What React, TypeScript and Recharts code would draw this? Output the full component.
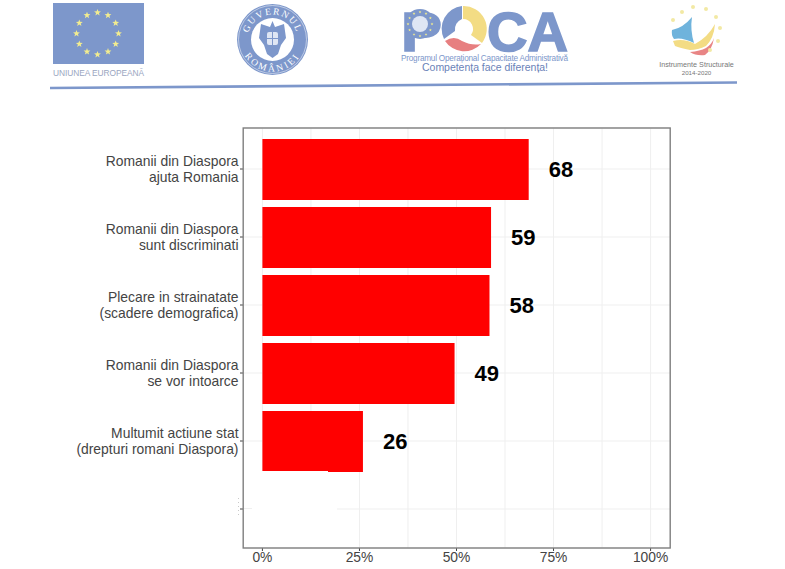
import React from "react";
import { BarChart, Bar, XAxis, YAxis, CartesianGrid, LabelList } from "recharts";

const categories = [
  "Romanii din Diaspora\najuta Romania",
  "Romanii din Diaspora\nsunt discriminati",
  "Plecare in strainatate\n(scadere demografica)",
  "Romanii din Diaspora\nse vor intoarce",
  "Multumit actiune stat\n(drepturi romani Diaspora)",
  " ",
];
const shares: (number | null)[] = [68.6, 58.9, 58.5, 49.5, 25.9, null];
const labels: (number | null)[] = [68, 59, 58, 49, 26, null];
const xTicks = [0, 25, 50, 75, 100];
const gridValues = [0, 12.5, 25, 37.5, 50, 62.5, 75, 87.5, 100];
const data = categories.map((name, i) => ({ name, share: shares[i], label: labels[i] }));

const BLUE = "#7d97cb";
const FONT = "'Liberation Sans', Arial, sans-serif";
const SERIF = "'Liberation Serif', serif";

function CatTick(props: any) {
  const { x, y, payload } = props;
  const lines = String(payload.value).split("\n");
  if (lines.length < 2) return <g />;
  return (
    <text x={x} y={y} textAnchor="end" fontFamily={FONT} fontSize={13.9} fill="#444">
      {lines.map((l: string, i: number) => (
        <tspan key={i} x={x + 0.5} y={y + (i === 0 ? -3 : 12.5)}>{l}</tspan>
      ))}
    </text>
  );
}

function Stars({ cx, cy, r, size, color }: any) {
  return (
    <g fill={color}>
      {Array.from({ length: 12 }).map((_, i) => {
        const a = (i * Math.PI) / 6;
        const sx = cx + r * Math.sin(a);
        const sy = cy - r * Math.cos(a);
        const pts = Array.from({ length: 10 })
          .map((__, k) => {
            const b = (k * Math.PI) / 5;
            const rr = k % 2 === 0 ? size : size * 0.42;
            return `${sx + rr * Math.sin(b)},${sy - rr * Math.cos(b)}`;
          })
          .join(" ");
        return <polygon key={i} points={pts} />;
      })}
    </g>
  );
}

function Logos() {
  return (
    <svg width={785} height={110} style={{ position: "absolute", left: 0, top: 0 }}>
      <defs>
        <path id="sealTop" d="M 247.5 39.5 A 25 25 0 0 1 297.5 39.5" />
        <path id="sealBottom" d="M 240.5 39.5 A 32 32 0 0 0 304.5 39.5" />
      </defs>
      {/* EU */}
      <rect x={53} y={3} width={91} height={61} fill={BLUE} />
      <Stars cx={97.5} cy={33.5} r={21} size={3.6} color="#f2ec8f" />
      <text x={53} y={76} fontFamily={FONT} fontSize={8.4} fill="#9aa6bf" textLength={91}>UNIUNEA EUROPEANĂ</text>
      {/* Government seal */}
      <circle cx={272.5} cy={39.5} r={35.5} fill={BLUE} />
      <circle cx={272.5} cy={39.5} r={21.5} fill="#fff" />
      <circle cx={272.5} cy={39.5} r={34} fill="none" stroke="#fff" strokeWidth={0.5} />
      <text fontFamily={SERIF} fontSize={9.5} fill="#fff" letterSpacing={1.6}>
        <textPath href="#sealTop" startOffset="50%" textAnchor="middle">GUVERNUL</textPath>
      </text>
      <text fontFamily={SERIF} fontSize={9.5} fill="#fff" letterSpacing={2.4}>
        <textPath href="#sealBottom" startOffset="50%" textAnchor="middle">ROMÂNIEI</textPath>
      </text>
      <path d="M272.5 21 L275 27 L284 24 L286 38 L281 45 L278 54 L272.5 58 L267 54 L264 45 L259 38 L261 24 L270 27 Z" fill={BLUE} />
      <rect x={267} y={32} width={11} height={13} rx={2} fill="#dfe6f4" />
      <path d="M272.5 32 V45 M267 38.5 H278" stroke={BLUE} strokeWidth={1} />
      {/* POCA */}
      <text x={401} y={50.5} fontFamily={FONT} fontWeight={700} fontSize={56} fill={BLUE} stroke={BLUE} strokeWidth={1.6} textLength={41} lengthAdjust="spacingAndGlyphs">P</text>
      <circle cx={420} cy={24} r={15} fill={BLUE} />
      <circle cx={420} cy={24} r={8} fill="#dfe6f4" />
      <Stars cx={420} cy={24} r={12} size={1.5} color="#f2ec8f" />
      <path d="M463 6 A 23 23 0 0 1 482 43 L471 35 A 10 10 0 0 0 463 19 Z" fill="#f3dc84" />
      <path d="M481 44 A 23 23 0 0 1 445 41 Q 454 35 462 41 Q 472 46 481 44 Z" fill="#e77f80" />
      <path d="M462 6 A 23 23 0 0 0 444 39 L 455 31 A 11 11 0 0 1 462 19 Z" fill={BLUE} />
      <text x={487} y={50.5} fontFamily={FONT} fontWeight={700} fontSize={56} fill={BLUE} stroke={BLUE} strokeWidth={1.6} textLength={81} lengthAdjust="spacingAndGlyphs">CA</text>
      <text x={401} y={60.5} fontFamily={FONT} fontSize={8.2} fill={BLUE} textLength={167}>Programul Operațional Capacitate Administrativă</text>
      <text x={422} y={71} fontFamily={FONT} fontSize={10.5} fill="#6a82b8" textLength={126}>Competența face diferența!</text>
      {/* Instrumente Structurale */}
      <path d="M672 30 Q 683 28 692 17 Q 690 30 694 43 Q 682 37 674 39 Q 671 35 672 30 Z" fill="#6fb3dc" />
      <path d="M673 41 Q 684 38 695 44 Q 708 37 715 24 Q 714 38 706 46 Q 698 50 690 50 Q 680 48 675 46 Z" fill="#f3dc84" />
      <path d="M690 52 Q 700 51 706 48 Q 712 44 714 38 Q 712 50 705 55 Q 696 56 690 52 Z" fill="#e88585" />
      <g fill="#f2e9a4">
        {[[673, 20], [682, 12], [693, 7], [706, 9], [716, 17], [720, 28], [718, 41], [710, 50]].map(([cx, cy], i) => (
          <circle key={i} cx={cx} cy={cy} r={2} />
        ))}
      </g>
      <text x={696.5} y={67} textAnchor="middle" fontFamily={FONT} fontSize={7.2} fill="#777">Instrumente Structurale</text>
      <text x={696.5} y={74.5} textAnchor="middle" fontFamily={FONT} fontSize={6.2} fill="#777">2014-2020</text>
      {/* Rule */}
      <line x1={50} y1={88} x2={737} y2={82.5} stroke={BLUE} strokeWidth={2.6} />
    </svg>
  );
}

export default function App() {
  return (
    <div style={{ position: "absolute", left: 0, top: 0, width: 785, height: 569, background: "#fff", overflow: "hidden" }}>
      <Logos />
      <BarChart
        width={785}
        height={569}
        data={data}
        layout="vertical"
        margin={{ top: 128, right: 115, bottom: 0, left: 0 }}
        style={{ position: "absolute", left: 0, top: 0 }}
      >
        <CartesianGrid stroke="#efefef" strokeWidth={1} verticalValues={gridValues} />
        <XAxis
          type="number"
          domain={[-5, 105]}
          ticks={xTicks}
          height={21}
          tickFormatter={(v: number) => `${v}%`}
          tick={{ fontFamily: FONT, fontSize: 13.8, fill: "#444" }}
          tickSize={3}
          tickLine={{ stroke: "#444" }}
          axisLine={false}
          tickMargin={1}
        />
        <YAxis
          type="category"
          dataKey="name"
          width={243}
          interval={0}
          padding={{ top: 7, bottom: 5 }}
          tick={<CatTick />}
          tickSize={3}
          tickLine={{ stroke: "#444" }}
          axisLine={false}
        />
        <Bar dataKey="share" barSize={61} fill="#ff0000" isAnimationActive={false}>
          <LabelList
            dataKey="label"
            position="right"
            offset={20}
            style={{ fontFamily: FONT, fontSize: 22, fontWeight: 700, fill: "#000" }}
          />
        </Bar>
      </BarChart>
      {/* retouched empty row of the original, and the panel border on top */}
      <svg width={785} height={569} style={{ position: "absolute", left: 0, top: 0, pointerEvents: "none" }}>
        <rect x={244} y={471} width={84} height={76} fill="#fff" />
        <rect x={328} y={472} width={9} height={75} fill="#fff" />
        <line x1={244} y1={508.5} x2={252} y2={508.5} stroke="#efefef" />
        <line x1={238.5} y1={498} x2={238.5} y2={518} stroke="#c9c9c9" strokeDasharray="1 3" />
        <rect x={243.2} y={128} width={427} height={420} fill="none" stroke="#7f7f7f" strokeWidth={1.4} />
      </svg>
    </div>
  );
}
